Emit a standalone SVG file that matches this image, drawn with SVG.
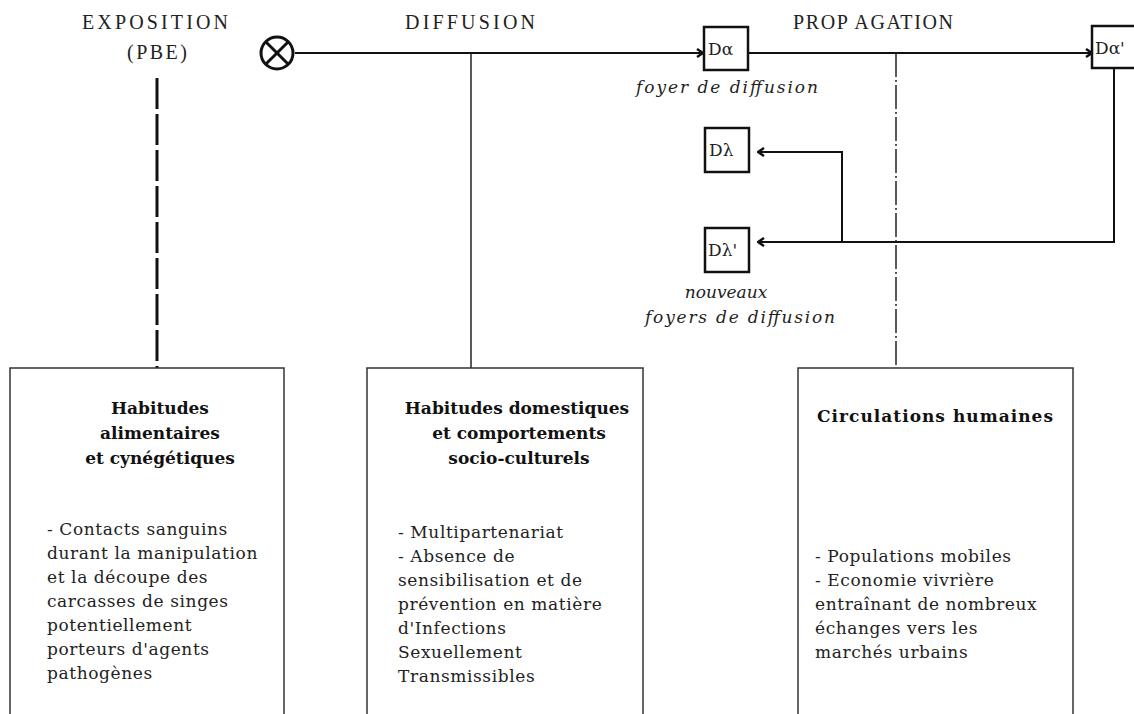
<svg xmlns="http://www.w3.org/2000/svg" width="1134" height="714" viewBox="0 0 1134 714">
<defs>
<style>
.hdr{font-family:"Liberation Serif",serif;font-size:20px;fill:#222}
.lbl{font-family:"DejaVu Serif",serif;font-style:italic;font-size:17px;fill:#222}
.bx{fill:#fff;stroke:#333;stroke-width:1.5}
.sm{fill:#fff;stroke:#111;stroke-width:2.5}
.ttl{font-family:"DejaVu Serif",serif;font-weight:bold;font-size:17px;fill:#111;text-anchor:middle}
.body{font-family:"DejaVu Serif",serif;font-size:17px;letter-spacing:0.6px;fill:#222}
.code{font-family:"DejaVu Serif",serif;font-size:17px;fill:#222}
.ln{fill:none;stroke:#111;stroke-width:2}
</style>
<marker id="chev" viewBox="0 0 10 10" refX="9" refY="5" markerWidth="10" markerHeight="10" markerUnits="userSpaceOnUse" orient="auto">
<path d="M3,1 L9,5 L3,9" fill="none" stroke="#111" stroke-width="2.5"/>
</marker>
</defs>
<rect width="1134" height="714" fill="#fff"/>

<g id="headers">
<text class="hdr" x="82" y="29" textLength="146" lengthAdjust="spacing">EXPOSITION</text>
<text class="hdr" x="127" y="59" textLength="60" lengthAdjust="spacing">(PBE)</text>
<text class="hdr" x="405" y="29" textLength="130" lengthAdjust="spacing">DIFFUSION</text>
<text class="hdr" x="793" y="29" textLength="160" lengthAdjust="spacing">PROP AGATION</text>
</g>

<g id="connectors">
<line class="ln" x1="295" y1="53" x2="703" y2="53" marker-end="url(#chev)"/>
<line class="ln" x1="749" y1="53" x2="1092" y2="53" marker-end="url(#chev)"/>
<polyline class="ln" points="1114,68 1114,242 758,242" marker-end="url(#chev)"/>
<polyline class="ln" points="842,242 842,152 758,152" marker-end="url(#chev)"/>
<line x1="157" y1="78" x2="157" y2="370" stroke="#111" stroke-width="3" stroke-dasharray="31,5"/>
<line x1="471" y1="53" x2="471" y2="369" stroke="#222" stroke-width="1.5"/>
<line x1="896" y1="53" x2="896" y2="370" stroke="#222" stroke-width="1.5" stroke-dasharray="24,3,2,3"/>
</g>

<g id="source">
<circle cx="277" cy="53" r="16" fill="#fff" stroke="#111" stroke-width="3"/>
<line x1="265.7" y1="41.7" x2="288.3" y2="64.3" stroke="#111" stroke-width="3"/>
<line x1="288.3" y1="41.7" x2="265.7" y2="64.3" stroke="#111" stroke-width="3"/>
</g>

<g id="node-Da">
<rect class="sm" x="704" y="27" width="44" height="43"/>
<text class="code" x="708" y="55">Dα</text>
<text class="lbl" x="727" y="93" text-anchor="middle" textLength="182" lengthAdjust="spacing">foyer de diffusion</text>
</g>
<g id="node-Da2">
<rect class="sm" x="1092" y="26" width="50" height="42"/>
<text class="code" x="1095" y="54">Dα'</text>
</g>
<g id="node-Dl">
<rect class="sm" x="705" y="128" width="44" height="44"/>
<text class="code" x="709" y="156">Dλ</text>
</g>
<g id="node-Dl2">
<rect class="sm" x="705" y="228" width="44" height="44"/>
<text class="code" x="708" y="256">Dλ'</text>
<text class="lbl" x="726" y="298" text-anchor="middle">nouveaux</text>
<text class="lbl" x="740" y="323" text-anchor="middle" textLength="190" lengthAdjust="spacing">foyers de diffusion</text>
</g>

<g id="box-exposition">
<rect class="bx" x="10" y="368" width="274" height="360"/>
<text class="ttl" x="160" y="414">Habitudes</text>
<text class="ttl" x="160" y="439">alimentaires</text>
<text class="ttl" x="160" y="464">et cynégétiques</text>
<text class="body" x="47" y="535">- Contacts sanguins</text>
<text class="body" x="47" y="559">durant la manipulation</text>
<text class="body" x="47" y="583">et la découpe des</text>
<text class="body" x="47" y="607">carcasses de singes</text>
<text class="body" x="47" y="631">potentiellement</text>
<text class="body" x="47" y="655">porteurs d'agents</text>
<text class="body" x="47" y="679">pathogènes</text>
</g>

<g id="box-diffusion">
<rect class="bx" x="367" y="368" width="276" height="360"/>
<text class="ttl" x="517" y="414">Habitudes domestiques</text>
<text class="ttl" x="519" y="439">et comportements</text>
<text class="ttl" x="519" y="464">socio-culturels</text>
<text class="body" x="398" y="538">- Multipartenariat</text>
<text class="body" x="398" y="562">- Absence de</text>
<text class="body" x="398" y="586">sensibilisation et de</text>
<text class="body" x="398" y="610">prévention en matière</text>
<text class="body" x="398" y="634">d'Infections</text>
<text class="body" x="398" y="658">Sexuellement</text>
<text class="body" x="398" y="682">Transmissibles</text>
</g>

<g id="box-propagation">
<rect class="bx" x="798" y="368" width="275" height="360"/>
<text class="ttl" x="935" y="422" textLength="236" lengthAdjust="spacing">Circulations humaines</text>
<text class="body" x="815" y="562">- Populations mobiles</text>
<text class="body" x="815" y="586">- Economie vivrière</text>
<text class="body" x="815" y="610">entraînant de nombreux</text>
<text class="body" x="815" y="634">échanges vers les</text>
<text class="body" x="815" y="658">marchés urbains</text>
</g>
</svg>
